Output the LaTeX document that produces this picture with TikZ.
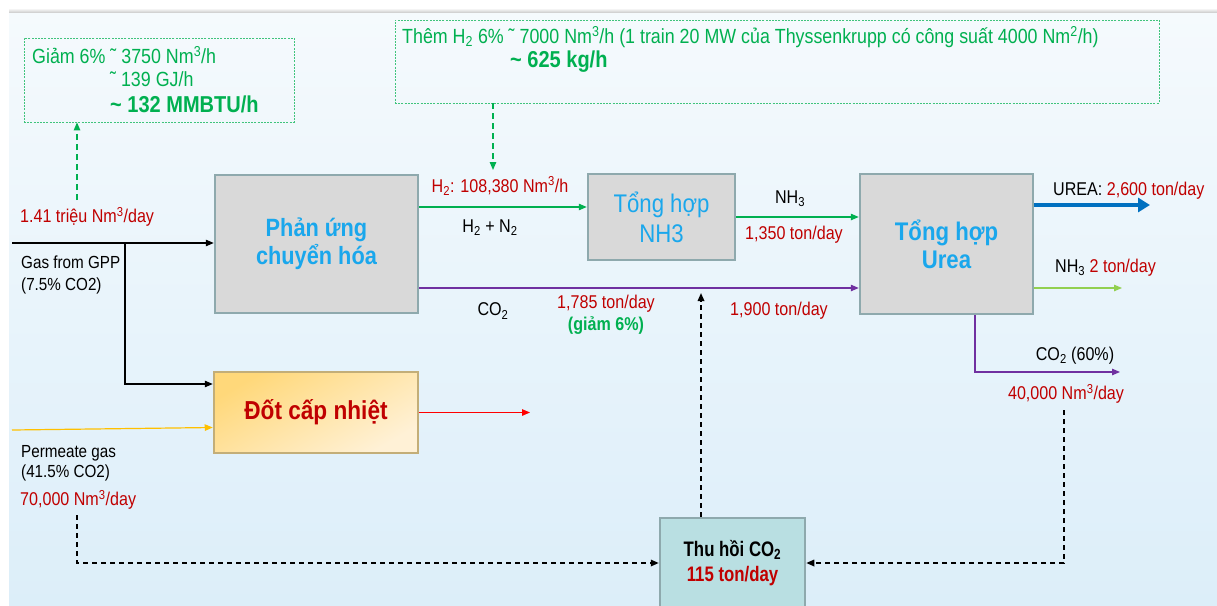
\documentclass[tikz,border=0pt]{standalone}
\usepackage{fontspec}
\setmainfont{Liberation Sans}[FakeStretch=0.87]
\newfontfamily\condfont{Liberation Sans}[FakeStretch=0.8]
\usetikzlibrary{arrows.meta}
\definecolor{ppgreen}{HTML}{00B050}
\definecolor{ppred}{HTML}{C00000}
\definecolor{ppblue}{HTML}{1AA7EC}
\definecolor{boxgray}{HTML}{D9D9D9}
\definecolor{boxline}{HTML}{8EA9AD}
\definecolor{ppurple}{HTML}{7030A0}
\definecolor{darkblue}{HTML}{0070C0}
\definecolor{litegreen}{HTML}{92D050}
\definecolor{ppgold}{HTML}{FFC000}
\definecolor{ppteal}{HTML}{B9DFE2}
\definecolor{dottop}{HTML}{FFD87A}
\definecolor{dotbot}{HTML}{FFF1D6}
\definecolor{dotline}{HTML}{C3AE78}
\definecolor{bgtop}{HTML}{F5FAFD}
\definecolor{bgbot}{HTML}{DCEEF9}
\newcommand{\setfs}[2]{\fontsize{#1}{#2}\selectfont}
\begin{document}
\begin{tikzpicture}[x=1pt, y=-1pt, >={Triangle[length=8pt,width=6.5pt]},
    procbox/.style={draw=boxline, line width=2.5pt, fill=boxgray, inner sep=0pt, align=center, text=ppblue},
    notebox/.style={draw=ppgreen!75, line width=0.8pt, dash pattern=on 2pt off 1.2pt, inner sep=0pt},
    notetext/.style={text=ppgreen, inner sep=0pt, font=\setfs{20.5}{24}},
    redlbl/.style={text=ppred, inner sep=0pt, font=\setfs{18.5}{22}},
    blklbl/.style={text=black, inner sep=0pt, font=\setfs{18.5}{22}},
    flow/.style={->, line width=1.2pt},
    notearrow/.style={->, ppgreen, line width=1.2pt, dash pattern=on 6pt off 4pt},
    recycle/.style={->, black, line width=1.6pt, dash pattern=on 5pt off 4pt}]
  \useasboundingbox (0,0) rectangle (1217,605);
  \shade[top color=bgtop, bottom color=bgbot] (9,12) rectangle (1217,605);
  \shade[top color=white, bottom color=gray!35] (9,8) rectangle (1217,12);

  \node[notebox, minimum width=270pt, minimum height=84pt] (giam) at (159,80) {};
  \node[notetext, anchor=west] (giam1) at (32,55) {Giảm 6\% ˜ 3750 Nm\textsuperscript{3}/h};
  \node[notetext, anchor=west] (giam2) at (110,79) {˜ 139 GJ/h};
  \node[notetext, anchor=west, font=\setfs{23}{26}\bfseries] (giam3) at (110,104) {\textasciitilde{} 132 MMBTU/h};

  \node[notebox, minimum width=764pt, minimum height=83pt] (them) at (777,61.5) {};
  \node[notetext, anchor=west] (them1) at (402,37) {Thêm H\textsubscript{2} 6\% ˜ 7000 Nm\textsuperscript{3}/h (1 train 20 MW của Thyssenkrupp có công suất 4000 Nm\textsuperscript{2}/h)};
  \node[notetext, anchor=west, font=\setfs{23}{26}\bfseries] (them2) at (510,62) {\textasciitilde{} 625 kg/h};

  \node[procbox, minimum width=203pt, minimum height=138pt, font=\setfs{25}{28}\bfseries] (phan) at (316.5,244) {Phản ứng\\chuyển hóa};
  \node[procbox, minimum width=147pt, minimum height=86pt, font=\setfs{25.5}{30}] (nh3) at (661.5,217) {Tổng hợp\\NH3};
  \node[procbox, minimum width=173pt, minimum height=140pt, font=\setfs{25.5}{28}\bfseries] (urea) at (946.5,244) {Tổng hợp\\Urea};
  \node[draw=dotline, line width=2.5pt, top color=dottop, bottom color=dotbot, shading angle=30, inner sep=0pt,
        minimum width=204pt, minimum height=81pt, text=ppred, font=\setfs{26}{30}\bfseries] (dot) at (316,412.5) {Đốt cấp nhiệt};
  \node[draw=boxline, line width=2.5pt, fill=ppteal, inner sep=0pt, align=center, minimum width=145pt, minimum height=90pt,
        font=\condfont\setfs{21}{25}\bfseries] (thu) at (732.5,563) {Thu hồi CO\textsubscript{2}\\\textcolor{ppred}{115 ton/day}};

  \node[redlbl, anchor=west] (l141) at (20,217) {1.41 triệu Nm\textsuperscript{3}/day};
  \node[blklbl, anchor=north west, align=left, font=\setfs{17.5}{22}] (gpp) at (21,256) {Gas from GPP\\(7.5\% CO2)};
  \node[blklbl, anchor=north west, align=left, font=\setfs{17.5}{20}] (perm) at (21,445) {Permeate gas\\(41.5\% CO2)};
  \node[redlbl, anchor=west] (l70k) at (20,500) {70,000 Nm\textsuperscript{3}/day};
  \node[redlbl] (lh2) at (500,186) {H\textsubscript{2}: 108,380 Nm\textsuperscript{3}/h};
  \node[blklbl] (lh2n2) at (490,228) {H\textsubscript{2} + N\textsubscript{2}};
  \node[blklbl] (lnh3) at (790,199) {NH\textsubscript{3}};
  \node[redlbl] (l1350) at (794,235) {1,350 ton/day};
  \node[blklbl] (lco2) at (493,311) {CO\textsubscript{2}};
  \node[redlbl] (l1785) at (606,304) {1,785 ton/day};
  \node[redlbl, text=ppgreen, font=\setfs{18.5}{22}\bfseries] (lgiam) at (606,326) {(giảm 6\%)};
  \node[redlbl] (l1900) at (779,311) {1,900 ton/day};
  \node[blklbl, anchor=west] (lurea) at (1053,191) {UREA: \textcolor{ppred}{2,600 ton/day}};
  \node[blklbl, anchor=west] (lnh3b) at (1055,268) {NH\textsubscript{3} \textcolor{ppred}{2 ton/day}};
  \node[blklbl] (lco2b) at (1075,356) {CO\textsubscript{2} (60\%)};
  \node[redlbl] (l40k) at (1066,394) {40,000 Nm\textsuperscript{3}/day};

  \coordinate (gasin) at (12,243);
  \coordinate (branch) at (125,243);
  \coordinate (permin) at (12,430);
  \coordinate (heatout) at (530,412.5);
  \coordinate (ureaout) at (1150,205);
  \coordinate (nh3out) at (1122,288);
  \coordinate (co2out) at (1120,372);
  \coordinate (giamfrom) at (77,200);
  \coordinate (themto) at (493,170);
  \coordinate (permrec) at (77,515);
  \coordinate (urearec) at (1064,410);
  \coordinate (co2up) at (701,293);

  \draw[flow] (gasin) -- (gasin -| phan.west);
  \draw[flow] (branch) |- ([yshift=28.5pt]dot.west);
  \draw[flow, ppgold] (permin) -- ([yshift=-15pt]dot.west);
  \draw[flow, red] (dot.east) -- (heatout);
  \draw[flow, ppgreen] ([yshift=37pt]phan.east) -- ([yshift=37pt]phan.east -| nh3.west);
  \draw[flow, ppgreen] (nh3.east) -- (nh3.east -| urea.west);
  \draw[flow, ppurple] ([yshift=-44pt]phan.east) -- ([yshift=-44pt]phan.east -| urea.west);
  \draw[->, darkblue, line width=4.5pt, >={Triangle[length=12pt,width=14pt]}] ([yshift=39pt]urea.east) -- (ureaout);
  \draw[flow, litegreen] ([yshift=-44pt]urea.east) -- (nh3out);
  \draw[flow, ppurple] ([xshift=28.5pt]urea.south) |- (co2out);
  \draw[notearrow] (giamfrom) -- (giamfrom |- giam.south);
  \draw[notearrow] (themto |- them.south) -- (themto);
  \draw[recycle] (permrec) |- (thu.west);
  \draw[recycle] (urearec) |- (thu.east);
  \draw[recycle] ([xshift=-31.5pt]thu.north) -- (co2up);
\end{tikzpicture}
\end{document}
